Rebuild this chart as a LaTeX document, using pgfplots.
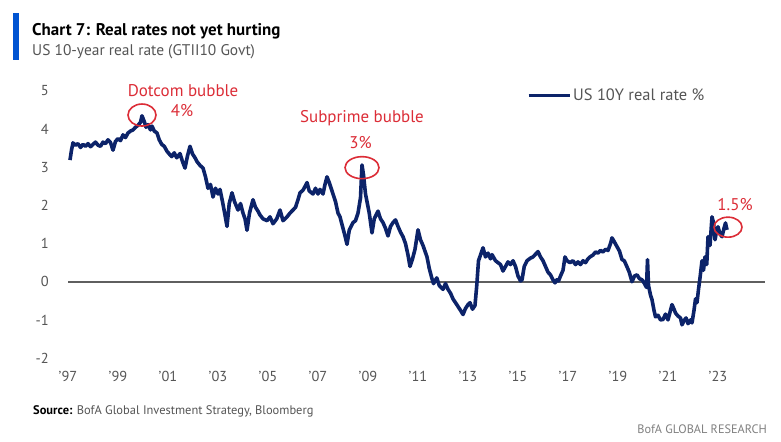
\documentclass[border=0pt]{standalone}
\usepackage{fontspec}
\setmainfont{PT Sans}
\usepackage{pgfplots}
\pgfplotsset{compat=1.18}
\definecolor{navy}{RGB}{12,35,105}
\definecolor{barblue}{RGB}{0,84,210}
\definecolor{annred}{RGB}{220,45,55}
\definecolor{ticktext}{RGB}{85,85,85}
\definecolor{zeroline}{RGB}{95,95,95}
\begin{document}
\begin{tikzpicture}
\useasboundingbox[fill=white] (0,0) rectangle (781bp,-442bp);
\fill[barblue] (13bp,-13bp) rectangle (19bp,-60bp);
\node[anchor=base west, inner sep=0pt, font=\fontsize{17}{20}\selectfont\bfseries] at (32bp,-35bp) {Chart 7: Real rates not yet hurting};
\node[anchor=base west, inner sep=0pt, font=\fontsize{15.5}{18}\selectfont, text=ticktext] at (32bp,-55bp) {US 10-year real rate (GTII10 Govt)};
\node[anchor=base west, inner sep=0pt, font=\fontsize{12.5}{14}\selectfont, text=ticktext] at (33bp,-414bp) {\textbf{\color{black}Source:} BofA Global Investment Strategy, Bloomberg};
\node[anchor=base east, inner sep=0pt, font=\fontsize{12.3}{14}\selectfont, text=gray] at (767bp,-433bp) {BofA GLOBAL RESEARCH};
\begin{axis}[
  at={(68bp,-358bp)}, anchor=south west,
  scale only axis, width=697bp, height=267bp,
  xmin=1997, xmax=2024.88, ymin=-2, ymax=5,
  axis line style={draw=none}, major tick length=0pt, tick style={draw=none},
  xtick={1997,1999,2001,2003,2005,2007,2009,2011,2013,2015,2017,2019,2021,2023},
  xticklabels={'97,'99,'01,'03,'05,'07,'09,'11,'13,'15,'17,'19,'21,'23},
  ytick={-2,-1,0,1,2,3,4,5},
  yticklabels={-2,-1,0,1,2,3,4,5},
  ticklabel style={font=\fontsize{14.5}{16}\selectfont, text=ticktext, inner sep=0pt},
  xticklabel style={anchor=north, yshift=-13bp},
  yticklabel style={anchor=east, xshift=-19bp},
  clip=false,
  legend style={at={(0.6585,0.985)}, anchor=west, draw=none, fill=none, inner sep=0pt,
    font=\fontsize{16.5}{18}\selectfont, text=ticktext},
  legend image code/.code={\draw[#1, line width=3bp] (0bp,0bp) -- (41bp,0bp);},
]
\addplot[zeroline, line width=1.6bp, forget plot] coordinates {(1997,0) (2024.88,0)};
\addplot[navy, line width=3.6bp, line join=round] coordinates {
(1997.08,3.19) (1997.14,3.45) (1997.2,3.64) (1997.3,3.58) (1997.4,3.62) (1997.5,3.52) (1997.6,3.60) (1997.7,3.55)
(1997.8,3.62) (1997.9,3.54) (1998.0,3.60) (1998.1,3.66) (1998.2,3.58) (1998.3,3.55) (1998.4,3.66) (1998.5,3.62)
(1998.6,3.72) (1998.7,3.65) (1998.8,3.45) (1998.9,3.68) (1999.0,3.75) (1999.1,3.70) (1999.2,3.85) (1999.3,3.78)
(1999.4,3.90) (1999.5,3.95) (1999.6,3.98) (1999.7,4.05) (1999.8,4.10) (1999.9,4.18) (1999.96,4.35) (2000.05,4.20)
(2000.12,4.05) (2000.2,4.12) (2000.3,3.98) (2000.36,4.08) (2000.45,3.95) (2000.56,3.90) (2000.65,3.72) (2000.75,3.60)
(2000.85,3.55) (2000.96,3.42) (2001.05,3.35) (2001.15,3.28) (2001.25,3.38) (2001.35,3.25) (2001.48,3.36) (2001.58,3.15)
(2001.68,2.98) (2001.78,3.30) (2001.88,3.55) (2001.98,3.35) (2002.08,3.25) (2002.16,3.15) (2002.28,3.05) (2002.4,2.98)
(2002.5,2.75) (2002.6,2.45) (2002.7,2.55) (2002.8,2.22) (2002.9,2.45) (2003.0,2.30) (2003.08,2.42) (2003.18,2.10)
(2003.28,1.75) (2003.36,1.45) (2003.45,2.05) (2003.56,2.33) (2003.66,2.10) (2003.8,1.88) (2003.9,2.05) (2004.0,1.80)
(2004.08,1.65) (2004.16,1.35) (2004.26,1.80) (2004.4,2.15) (2004.5,1.95) (2004.6,1.85) (2004.68,1.75) (2004.8,1.65)
(2004.96,1.60) (2005.08,1.70) (2005.2,1.52) (2005.35,1.65) (2005.48,1.88) (2005.6,1.60) (2005.76,1.70) (2005.88,1.80)
(2006.0,1.88) (2006.1,1.95) (2006.2,2.15) (2006.28,2.33) (2006.4,2.40) (2006.5,2.52) (2006.56,2.60) (2006.65,2.38)
(2006.8,2.30) (2006.9,2.45) (2007.0,2.30) (2007.08,2.42) (2007.2,2.30) (2007.28,2.55) (2007.36,2.75) (2007.45,2.60)
(2007.6,2.30) (2007.7,2.10) (2007.8,1.80) (2007.88,1.70) (2007.98,1.45) (2008.08,1.20) (2008.16,0.98) (2008.25,1.35)
(2008.4,1.55) (2008.5,1.60) (2008.6,1.80) (2008.7,2.20) (2008.76,3.06) (2008.82,2.80) (2008.9,2.30) (2008.96,2.10)
(2009.05,1.80) (2009.16,1.28) (2009.25,1.65) (2009.4,1.85) (2009.5,1.65) (2009.6,1.55) (2009.7,1.40) (2009.8,1.20)
(2009.9,1.45) (2010.0,1.55) (2010.1,1.62) (2010.2,1.45) (2010.3,1.30) (2010.4,1.18) (2010.5,1.00) (2010.6,0.70)
(2010.68,0.40) (2010.78,0.60) (2010.88,0.85) (2011.0,1.36) (2011.1,1.10) (2011.2,0.95) (2011.36,0.65) (2011.45,0.35)
(2011.55,0.10) (2011.62,-0.05) (2011.75,0.10) (2011.85,-0.10) (2012.0,-0.20) (2012.1,-0.05) (2012.2,-0.20) (2012.3,-0.30)
(2012.4,-0.45) (2012.5,-0.55) (2012.6,-0.65) (2012.7,-0.75) (2012.8,-0.86) (2012.9,-0.70) (2013.0,-0.60) (2013.08,-0.55)
(2013.18,-0.72) (2013.28,-0.62) (2013.35,-0.10) (2013.42,0.55) (2013.5,0.70) (2013.6,0.89) (2013.7,0.65) (2013.8,0.75)
(2013.9,0.60) (2013.96,0.71) (2014.1,0.55) (2014.2,0.50) (2014.3,0.45) (2014.4,0.28) (2014.5,0.40) (2014.6,0.52)
(2014.7,0.45) (2014.8,0.55) (2014.9,0.40) (2015.0,0.15) (2015.1,0.02) (2015.16,0.05) (2015.25,0.40) (2015.36,0.55)
(2015.5,0.62) (2015.6,0.65) (2015.7,0.72) (2015.8,0.79) (2015.9,0.65) (2016.0,0.55) (2016.1,0.40) (2016.2,0.25)
(2016.3,0.18) (2016.4,0.05) (2016.48,-0.03) (2016.55,0.05) (2016.62,0.02) (2016.7,0.15) (2016.8,0.30) (2016.88,0.65)
(2016.96,0.55) (2017.08,0.50) (2017.2,0.55) (2017.3,0.45) (2017.4,0.52) (2017.5,0.45) (2017.6,0.55) (2017.7,0.50)
(2017.8,0.60) (2017.88,0.65) (2018.0,0.70) (2018.1,0.78) (2018.2,0.75) (2018.3,0.82) (2018.4,0.78) (2018.5,0.85)
(2018.6,0.82) (2018.7,1.00) (2018.76,1.15) (2018.85,1.05) (2018.96,0.92) (2019.06,0.80) (2019.16,0.58) (2019.25,0.55)
(2019.36,0.39) (2019.45,0.25) (2019.56,0.00) (2019.66,0.15) (2019.76,0.18) (2019.86,0.08) (2019.96,0.05) (2020.06,-0.05)
(2020.14,-0.15) (2020.18,0.58) (2020.22,-0.10) (2020.3,-0.35) (2020.36,-0.47) (2020.44,-0.75) (2020.5,-0.92) (2020.6,-0.88)
(2020.7,-1.00) (2020.8,-0.99) (2020.9,-0.85) (2021.0,-1.00) (2021.08,-0.80) (2021.16,-0.60) (2021.24,-0.72) (2021.3,-0.82)
(2021.4,-0.90) (2021.5,-0.95) (2021.56,-1.13) (2021.64,-1.02) (2021.72,-0.95) (2021.8,-1.10) (2021.9,-1.00) (2021.96,-1.08)
(2022.04,-0.75) (2022.1,-0.45) (2022.16,-0.55) (2022.22,-0.20) (2022.28,0.10) (2022.36,0.55) (2022.42,0.30) (2022.48,0.65)
(2022.55,0.45) (2022.6,1.18) (2022.68,0.95) (2022.76,1.70) (2022.82,1.55) (2022.88,1.10) (2022.95,1.35) (2023.0,1.44)
(2023.08,1.25) (2023.16,1.18) (2023.24,1.40) (2023.3,1.54) (2023.36,1.36)
};
\addlegendentry{US 10Y real rate \%}
\draw[annred, line width=1.6bp] (axis cs:1999.96,4.37) ellipse [x radius=14bp, y radius=11bp];
\draw[annred, line width=1.6bp] (axis cs:2008.76,2.99) ellipse [x radius=17bp, y radius=11bp];
\draw[annred, line width=1.6bp] (axis cs:2023.4,1.43) ellipse [x radius=14bp, y radius=10bp];
\node[text=annred, font=\fontsize{17}{19}\selectfont] at (axis cs:2001.6,5.02) {Dotcom bubble};
\node[text=annred, font=\fontsize{17}{19}\selectfont] at (axis cs:2001.56,4.48) {4\%};
\node[text=annred, font=\fontsize{17}{19}\selectfont] at (axis cs:2008.76,4.28) {Subprime bubble};
\node[text=annred, font=\fontsize{17}{19}\selectfont] at (axis cs:2008.7,3.66) {3\%};
\node[text=annred, font=\fontsize{17}{19}\selectfont] at (axis cs:2023.68,2.01) {1.5\%};
\end{axis}
\end{tikzpicture}
\end{document}
